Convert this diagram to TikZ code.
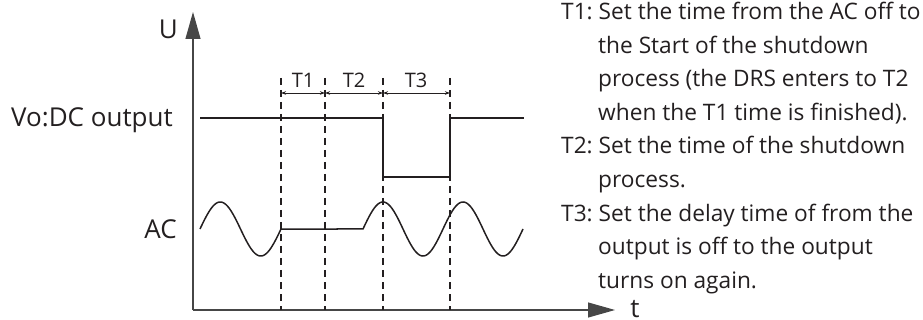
\documentclass[tikz,border=0pt]{standalone}
\usepackage{fontspec}
\setmainfont{Open Sans}
\usepackage{xcolor}
\usetikzlibrary{arrows.meta,positioning,calc}
\definecolor{inkcolor}{RGB}{35,31,32}
\definecolor{axiscolor}{RGB}{70,70,70}

\begin{document}
\begin{tikzpicture}[
    x=1pt, y=-1pt,
    axis/.style={axiscolor, line width=1.1pt, -{Triangle[length=27pt,width=15pt]}},
    wave/.style={inkcolor, line width=1.5pt},
    guide/.style={inkcolor, line width=1.2pt, dash pattern=on 7pt off 5pt},
    dim/.style={inkcolor, line width=0.7pt, {Stealth[length=5pt,width=3.5pt]}-{Stealth[length=5pt,width=3.5pt]}},
    siglabel/.style={font=\fontsize{26}{30}\selectfont, text=inkcolor, inner sep=0pt},
    spanlabel/.style={font=\fontsize{20}{24}\selectfont, text=inkcolor, inner sep=0pt},
    note/.style={font=\fontsize{22.7}{33.5}\selectfont, text=inkcolor, align=left, anchor=base west, inner sep=0pt}
]
    \useasboundingbox (0,0) rectangle (923,320);

    % axes
    \coordinate (origin) at (193,310);
    \coordinate (utip) at (193,12);
    \coordinate (ttip) at (615,310);
    \draw[axis] (origin) -- (utip);
    \draw[axis] (origin) -- (ttip);
    \node[siglabel, anchor=base east] (ulbl) at (178,39) {U};
    \node[siglabel, anchor=base] (tlbl) at (635,317) {t};

    % signal names
    \node[siglabel, anchor=base east] (volbl) at (173,127) {Vo:DC output};
    \node[siglabel, anchor=base east] (aclbl) at (177,239) {AC};

    % time marks
    \foreach \x/\n in {281/a, 325/b, 383/c, 450/d} {
        \coordinate (top\n) at (\x,78);
        \coordinate (bot\n) at (\x,310);
        \coordinate (dim\n) at (\x,93);
        \draw[guide] (top\n) -- (bot\n);
    }
    \draw[dim] (dima) -- (dimb);
    \draw[dim] (dimb) -- (dimc);
    \draw[dim] (dimc) -- (dimd);
    \node[spanlabel] (t1lbl) at (303,80) {T1};
    \node[spanlabel] (t2lbl) at (354,80) {T2};
    \node[spanlabel] (t3lbl) at (416,80) {T3};

    % DC output
    \draw[wave] (200,118) -- (383,118) -- (383,177) -- (450,177) -- (450,118) -- (524,118);

    % AC input
    \draw[wave] plot[domain=200:281, samples=80] (\x, {229-27*sin((\x-200)*4.4444)})
        -- (363,229)
        -- plot[domain=363:523, samples=140] (\x, {229-27*sin((\x-363)*4.5)});

    % notes (anchored at the baseline of their last line)
    \node[note] (note1) at (561,120.5) {T1:~Set the time from the AC off to\\
        \hspace*{37pt}the Start of the shutdown\\
        \hspace*{37pt}process (the DRS enters to T2\\
        \hspace*{37pt}when the T1 time is finished).};
    \node[note] (note2) at (561,187.5) {T2:~Set the time of the shutdown\\
        \hspace*{37pt}process.};
    \node[note] (note3) at (561,288) {T3:~Set the delay time of from the\\
        \hspace*{37pt}output is off to the output\\
        \hspace*{37pt}turns on again.};
\end{tikzpicture}
\end{document}
